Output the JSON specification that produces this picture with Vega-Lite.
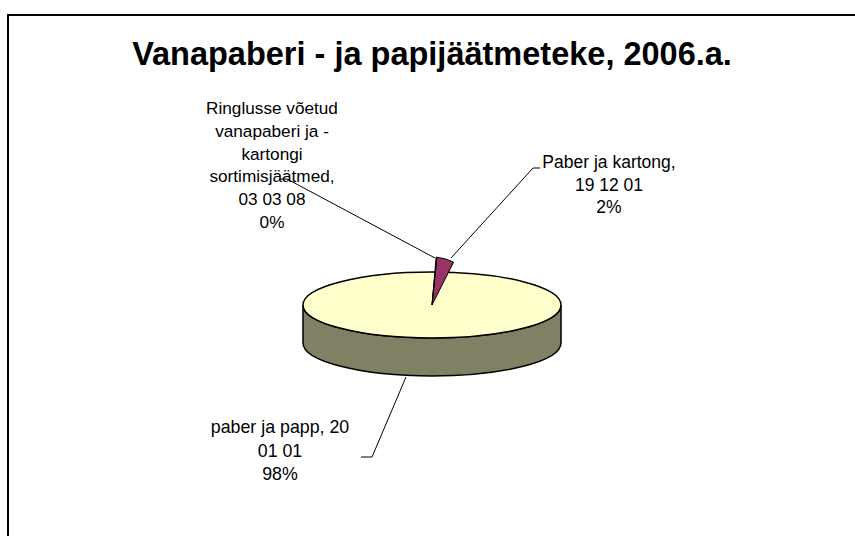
{
  "$schema": "https://vega.github.io/schema/vega-lite/v6.json",
  "autosize": "none",
  "width": 846,
  "height": 462,
  "padding": {"left": 9, "top": 74, "right": 0, "bottom": 0},
  "background": "white",
  "config": {
    "view": {"stroke": null},
    "font": "Liberation Sans"
  },
  "title": {
    "text": "Vanapaberi - ja papijäätmeteke, 2006.a.",
    "font": "Liberation Sans",
    "fontSize": 32.5,
    "fontWeight": "bold",
    "color": "black",
    "anchor": "middle",
    "frame": "group",
    "baseline": "alphabetic",
    "offset": -86
  },
  "data": {
    "values": [
      {"name": "Paber ja kartong, 19 12 01", "value": 1.9, "order": 1, "label": ["Paber ja kartong,", "19 12 01", "2%"]},
      {"name": "paber ja papp, 20 01 01", "value": 97.8, "order": 2, "label": ["paber ja papp, 20", "01 01", "98%"]},
      {"name": "Ringlusse võetud vanapaberi ja -kartongi sortimisjäätmed, 03 03 08", "value": 0.3, "order": 3, "label": ["Ringlusse võetud", "vanapaberi ja -", "kartongi", "sortimisjäätmed,", "03 03 08", "0%"]}
    ]
  },
  "layer": [
    {
      "transform": [{"filter": "datum.order == 2"}],
      "mark": {"type": "point", "filled": false, "opacity": 1, "size": 4, "stroke": "black", "strokeWidth": 2,
        "shape": "M -424 231 L -424 -290 L 423 -290"},
      "encoding": {}
    },
    {
      "transform": [{"filter": "datum.order == 2"}],
      "mark": {"type": "point", "filled": true, "opacity": 1, "size": 4, "fill": "#808064", "stroke": "black", "strokeWidth": 1.5,
        "shape": "M -129 0 L -129 38 C -129 56.2 -71.2 71 0 71 C 71.2 71 129 56.2 129 38 L 129 0 C 129 18.2 71.2 33 0 33 C -71.2 33 -129 18.2 -129 0 Z"},
      "encoding": {}
    },
    {
      "transform": [{"filter": "datum.order == 2"}],
      "mark": {"type": "point", "filled": true, "opacity": 1, "size": 4, "fill": "#FFFFCC", "stroke": "black", "strokeWidth": 1.5,
        "shape": "M -129 0 C -129 -18.2 -71.2 -33 0 -33 C 71.2 -33 129 -18.2 129 0 C 129 18.2 71.2 33 0 33 C -71.2 33 -129 18.2 -129 0 Z"},
      "encoding": {}
    },
    {
      "mark": {"type": "arc", "radius": 48, "thetaOffset": 0.1, "stroke": "black", "strokeWidth": 1},
      "encoding": {
        "theta": {"field": "value", "type": "quantitative", "stack": true, "scale": {"type": "pow", "exponent": 0.717}},
        "order": {"field": "order", "type": "quantitative"},
        "color": {"field": "name", "type": "nominal", "legend": null,
          "scale": {"domain": ["Paber ja kartong, 19 12 01", "paber ja papp, 20 01 01", "Ringlusse võetud vanapaberi ja -kartongi sortimisjäätmed, 03 03 08"], "range": ["#993366", "#FFFFCC", "#9999FF"]}},
        "opacity": {"condition": {"test": "datum.order == 2", "value": 0}, "value": 1}
      }
    },
    {
      "transform": [{"filter": "datum.order == 3"}],
      "mark": {"type": "point", "filled": false, "opacity": 1, "size": 4, "stroke": "black", "strokeWidth": 1,
        "shape": "M -152 -126 L -145 -126 L 3 -47"},
      "encoding": {}
    },
    {
      "transform": [{"filter": "datum.order == 1"}],
      "mark": {"type": "point", "filled": false, "opacity": 1, "size": 4, "stroke": "black", "strokeWidth": 1,
        "shape": "M 108 -137 L 101 -137 L 19 -47"},
      "encoding": {}
    },
    {
      "transform": [{"filter": "datum.order == 2"}],
      "mark": {"type": "point", "filled": false, "opacity": 1, "size": 4, "stroke": "black", "strokeWidth": 1,
        "shape": "M -26 72 L -60 152 L -71 152"},
      "encoding": {}
    },
    {
      "transform": [{"filter": "datum.order == 3"}],
      "mark": {"type": "text", "fontSize": 17.2, "lineHeight": 22.8, "align": "center", "baseline": "middle", "dx": -160, "dy": -196, "color": "black"},
      "encoding": {"text": {"field": "label"}}
    },
    {
      "transform": [{"filter": "datum.order == 1"}],
      "mark": {"type": "text", "fontSize": 17.5, "lineHeight": 22.5, "align": "center", "baseline": "middle", "dx": 177, "dy": -142, "color": "black"},
      "encoding": {"text": {"field": "label"}}
    },
    {
      "transform": [{"filter": "datum.order == 2"}],
      "mark": {"type": "text", "fontSize": 17.8, "lineHeight": 23.5, "align": "center", "baseline": "middle", "dx": -152, "dy": 123, "color": "black"},
      "encoding": {"text": {"field": "label"}}
    }
  ]
}
